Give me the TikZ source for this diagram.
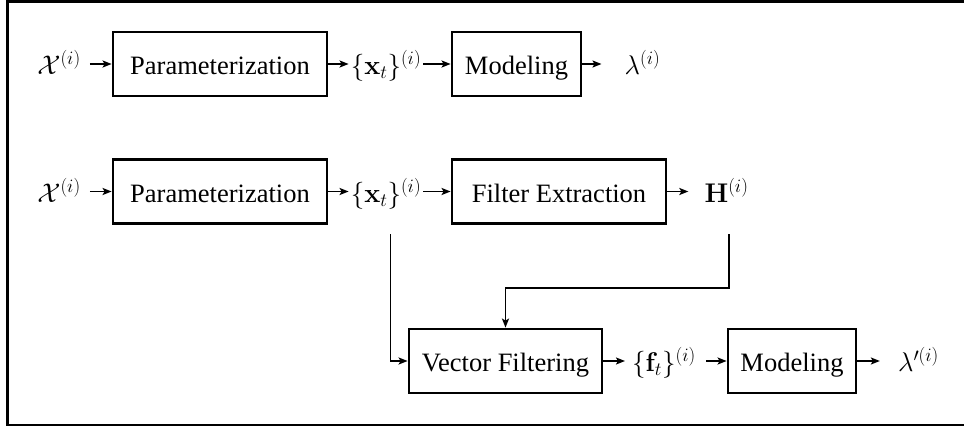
\RequirePackage{fix-cm}
\documentclass[tikz,border=0pt]{standalone}
\usepackage{amsmath}
\usepackage{amssymb}
\usepackage[no-math]{fontspec}
\setmainfont{Liberation Serif}
\usetikzlibrary{arrows.meta}

\begin{document}
\begin{tikzpicture}[x=1pt,y=1pt,yscale=-1,xscale=1,
  blockbox/.style={draw, line width=2.8pt, minimum height=64pt, inner sep=0pt,
    text height=27pt, text depth=6pt, font=\fontsize{26.5}{32}\selectfont},
  sig/.style={inner sep=2pt, text height=27pt, text depth=6pt, font=\fontsize{27}{32}\selectfont},
  flow/.style={line width=1.9pt, -{Stealth[length=9pt,width=7pt,inset=2pt]}}]
\useasboundingbox (0,0) rectangle (964,432);

%Shape: Frame
\draw [line width=2.6pt] (964,1.3) -- (7.3,1.3) -- (7.3,425) -- (964,425) ;

% Text Node
\node[sig] (chi1) at (59,64) {$\mathcal{X}^{(i)}$};
%Shape: Rectangle
\node[blockbox, minimum width=214pt] (par1) at (220,64) {Parameterization};
% Text Node
\node[sig] (xt1) at (386,64) {$\{\mathbf{x}_t\}^{(i)}$};
%Shape: Rectangle
\node[blockbox, minimum width=129pt] (mod1) at (516.5,64) {Modeling};
% Text Node
\node[sig] (lam1) at (642.5,64) {$\lambda^{(i)}$};

% Text Node
\node[sig] (chi2) at (59,191.5) {$\mathcal{X}^{(i)}$};
%Shape: Rectangle
\node[blockbox, minimum width=214pt] (par2) at (220,191.5) {Parameterization};
% Text Node
\node[sig] (xt2) at (386,191.5) {$\{\mathbf{x}_t\}^{(i)}$};
%Shape: Rectangle
\node[blockbox, minimum width=214pt] (fext) at (559,191.5) {Filter Extraction};
% Text Node
\node[sig] (hmat) at (726.5,191.5) {$\mathbf{H}^{(i)}$};

%Shape: Rectangle
\node[blockbox, minimum width=193pt] (vfilt) at (505.5,361) {Vector Filtering};
% Text Node
\node[sig] (ft) at (664,361) {$\{\mathbf{f}_t\}^{(i)}$};
%Shape: Rectangle
\node[blockbox, minimum width=128pt] (mod2) at (792,361) {Modeling};
% Text Node
\node[sig] (lam2) at (918.5,361) {$\lambda^{\prime(i)}$};

\coordinate (xtap) at (390.5,234);
\coordinate (htap) at (729,234);

%Straight Lines
\draw[flow, shorten <=7pt] (chi1) -- (par1);
\draw[flow] (par1) -- (xt1);
\draw[flow] (xt1) -- (mod1);
\draw[flow, shorten >=21pt] (mod1) -- (lam1);

\draw[flow, shorten <=7pt] (chi2) -- (par2);
\draw[flow] (par2) -- (xt2);
\draw[flow] (xt2) -- (fext);
\draw[flow, shorten >=14pt] (fext) -- (hmat);

\draw[flow] (xtap) |- (vfilt.west);
\draw[flow] (htap) -- ++(0,54) -| (vfilt.north);

\draw[flow, shorten >=5pt] (vfilt) -- (ft);
\draw[flow, shorten <=8pt] (ft) -- (mod2);
\draw[flow, shorten >=16pt] (mod2) -- (lam2);

\end{tikzpicture}
\end{document}
